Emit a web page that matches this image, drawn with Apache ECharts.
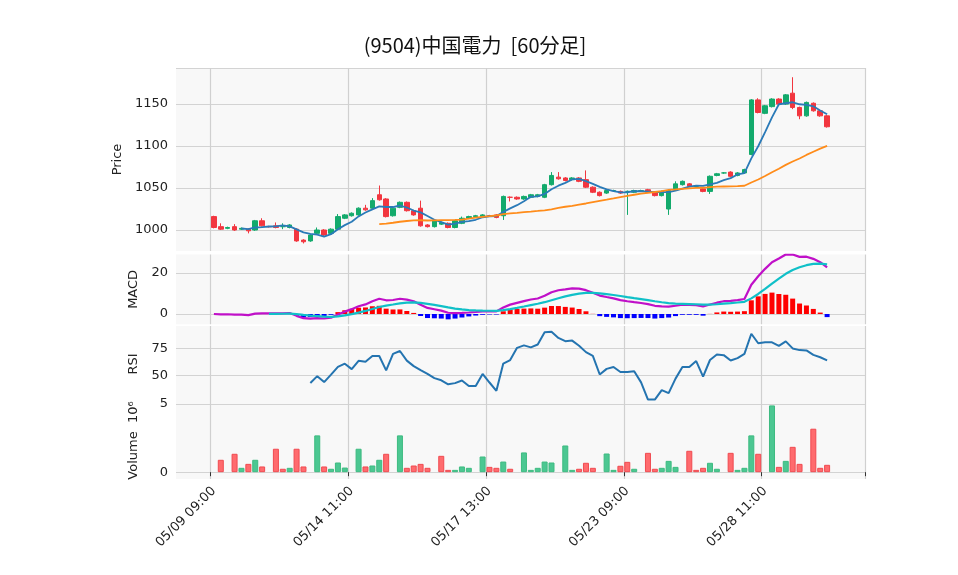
<!DOCTYPE html>
<html><head><meta charset="utf-8">
<script src="https://cdn.jsdelivr.net/npm/echarts@6/dist/echarts.min.js"></script>
<style>html,body{margin:0;padding:0;background:#fff}#c{width:958px;height:575px}</style>
</head><body><div id="c"></div>
<script>
const days=['05/09','05/10','05/13','05/14','05/15','05/16','05/17','05/20','05/21','05/22','05/23','05/24','05/27','05/28','05/29'];
const hours=['09:00','10:00','11:00','12:00','13:00','14:00'];
const opens=[1016,1004,1002,1004,1001,1001,1000,1011,1004,1005,1004,1003,1001,988,987,996,1000,996,1001,1014,1017,1018,1026,1026,1042,1037,1017,1027,1033,1023,1026,1006,1004,1007,1008,1003,1008,1014,1016,1016,1017,1018,1017,1039,1039,1037,1039,1040,1039,1054,1063,1062,1060,1062,1060,1051,1045,1044,1047,1046,1046,1045,1047,1048,1045,1041,1025,1049,1054,1055,1052,1049,1046,1065,1068,1069,1065,1068,1090,1155,1139,1147,1156,1150,1163,1146,1136,1151,1142,1136];
const closes=[1003,1001,1003,1000,1002,999,1011,1005,1004,1003,1004,1006,987,986,994,1000,994,1001,1016,1018,1020,1026,1024,1035,1036,1016,1026,1033,1023,1018,1005,1004,1011,1009,1003,1011,1014,1016,1017,1018,1017,1015,1040,1039,1037,1040,1042,1042,1054,1065,1061,1059,1062,1058,1051,1045,1041,1047,1047,1044,1046,1047,1047,1045,1041,1046,1047,1055,1058,1052,1052,1046,1064,1067,1068,1064,1068,1072,1155,1140,1148,1156,1150,1161,1146,1136,1152,1142,1136,1123];
const lows=[1002,1000,1001,999,1000,996,999,1004,1003,1002,1001,1002,986,984,986,995,993,995,1000,1013,1016,1017,1023,1025,1035,1015,1016,1026,1022,1017,1004,1003,1003,1006,1002,1002,1007,1013,1015,1015,1016,1014,1012,1034,1036,1036,1038,1039,1038,1053,1060,1058,1059,1057,1050,1044,1040,1043,1046,1043,1018,1044,1046,1044,1040,1040,1018,1048,1053,1051,1051,1045,1043,1064,1067,1063,1064,1067,1089,1139,1138,1146,1149,1149,1144,1132,1135,1141,1135,1122];
const highs=[1017,1008,1004,1007,1003,1002,1012,1014,1005,1009,1008,1007,1002,989,995,1003,1001,1002,1019,1019,1021,1027,1030,1038,1053,1038,1027,1034,1034,1024,1035,1007,1012,1010,1009,1012,1016,1017,1018,1019,1018,1019,1041,1040,1040,1041,1043,1043,1055,1069,1069,1063,1063,1063,1071,1052,1046,1048,1048,1047,1047,1048,1048,1049,1046,1047,1048,1058,1059,1056,1053,1050,1065,1068,1069,1070,1069,1073,1156,1157,1149,1157,1157,1162,1182,1147,1153,1152,1143,1137];
const volumes=[null,0.91,null,1.35,0.32,0.61,0.91,0.42,null,1.72,0.25,0.32,1.72,0.42,null,2.7,0.42,0.25,0.71,0.34,null,1.72,0.42,0.49,0.91,1.35,null,2.7,0.32,0.49,0.61,0.32,null,1.2,0.17,0.17,0.42,0.32,null,1.15,0.39,0.32,0.78,0.25,null,1.45,0.17,0.32,0.78,0.71,null,1.96,0.17,0.25,0.69,0.32,null,1.37,0.17,0.47,0.76,0.25,null,1.42,0.25,0.32,0.83,0.39,null,1.57,0.17,0.32,0.69,0.25,null,1.42,0.17,0.32,2.7,1.35,null,4.9,0.39,0.83,1.86,0.61,null,3.19,0.32,0.54];
const volumeUp=[0,0,0,0,1,0,1,0,0,0,0,1,0,0,0,1,0,1,1,1,0,1,0,1,1,0,0,1,0,0,0,0,0,0,0,1,1,1,0,1,0,0,1,0,0,1,1,1,1,1,0,1,1,0,0,0,0,1,1,0,0,1,0,0,0,1,1,1,0,0,0,0,1,1,0,0,1,1,1,0,0,1,0,1,0,0,0,0,0,0];
const PAD=5;
const cats=[];
for(let i=0;i<PAD;i++)cats.push('');
days.forEach(d=>hours.forEach(h=>cats.push(d+' '+h)));
for(let i=0;i<PAD;i++)cats.push(' ');
const N=closes.length;
const pad=a=>{const r=[];for(let i=0;i<PAD;i++)r.push('-');a.forEach(v=>r.push(v==null?'-':v));for(let i=0;i<PAD;i++)r.push('-');return r;};
function ma(n){return closes.map((c,i)=>i<n-1?null:+(closes.slice(i-n+1,i+1).reduce((a,b)=>a+b,0)/n).toFixed(2));}
function ema(arr,n){const k=2/(n+1);const r=[];arr.forEach((v,i)=>r.push(i===0?v:v*k+r[i-1]*(1-k)));return r;}
const e12=ema(closes,12),e26=ema(closes,26);
const macd=e12.map((v,i)=>v-e26[i]);
const sigFull=ema(macd,9);
const sig=sigFull.map((v,i)=>i<8?null:v);
const hist=macd.map((v,i)=>i<8?null:v-sigFull[i]);
const rsi=closes.map((c,i)=>{if(i<14)return null;let g=0,l=0;for(let j=i-13;j<=i;j++){const d=closes[j]-closes[j-1];if(d>0)g+=d;else l-=d;}return l===0?100:100-100/(1+g/l);});
const labelInt=(i)=>i>=PAD&&(i-PAD)%20===0&&i<PAD+N;
const UP='#13aa6c',DN='#f2363f';
const L=176,R=93;
const grids=[{top:68,height:183},{top:254.5,height:69.75},{top:326,height:76},{top:402,height:77}].map(g=>Object.assign({left:L,right:R,show:true,backgroundColor:'#f8f8f8',borderWidth:0},g));
const xAxes=grids.map((g,i)=>({type:'category',gridIndex:i,data:cats,boundaryGap:true,
  axisLine:{show:false},axisTick:{show:i===3,interval:labelInt,length:4,lineStyle:{color:'#333'}},
  axisLabel:{show:i===3,interval:labelInt,rotate:45,fontSize:13,color:'#222',fontFamily:'DejaVu Sans',margin:10},
  splitLine:{show:true,interval:labelInt,lineStyle:{color:'#d0d0d0',width:1.2}}}));
const T='rgba(0,0,0,0)',G='#d3d3d3';
const yBase={axisLine:{show:false},axisTick:{show:false},nameLocation:'middle',nameTextStyle:{fontSize:13,color:'#222',fontFamily:'DejaVu Sans'},axisLabel:{fontSize:13,color:'#222',fontFamily:'DejaVu Sans'}};
const yAxes=[
 Object.assign({},yBase,{gridIndex:0,min:975,max:1193,interval:25,name:'Price',nameGap:42,
   axisLabel:Object.assign({},yBase.axisLabel,{formatter:v=>v%50===0&&v<1200?String(v):''}),
   splitLine:{lineStyle:{color:[T,G],width:1.2}}}),
 Object.assign({},yBase,{gridIndex:1,min:-5,max:29,interval:5,name:'MACD',nameGap:36,
   axisLabel:Object.assign({},yBase.axisLabel,{formatter:v=>v===0||v===20?String(v):''}),
   splitLine:{lineStyle:{color:[T,G,T,T,T,G,T],width:1.2}}}),
 Object.assign({},yBase,{gridIndex:2,min:25,max:96.3,interval:25,name:'RSI',nameGap:36,
   axisLabel:Object.assign({},yBase.axisLabel,{formatter:v=>v===50||v===75?String(v):''}),
   splitLine:{lineStyle:{color:[T,G,G],width:1.2}}}),
 Object.assign({},yBase,{gridIndex:3,min:-0.5,max:5.15,interval:0.5,name:'Volume  10⁶',nameGap:36,
   axisLabel:Object.assign({},yBase.axisLabel,{formatter:v=>Math.abs(v)<1e-9?'0':(Math.abs(v-5)<1e-9?'5':'')}),
   splitLine:{lineStyle:{color:[T,G,T,T,T,T,T,T,T,T,T,G],width:1.2}}})
];
const candle=opens.map((o,i)=>[o,closes[i],lows[i],highs[i]]);
const volData=volumes.map((v,i)=>v==null?'-':{value:v,itemStyle:{color:volumeUp[i]?'#4cc792':'#ff6b6e',borderColor:volumeUp[i]?'#3dbb80':'#f04a50',borderWidth:1}});
const chart=echarts.init(document.getElementById('c'));
chart.setOption({
 animation:false,
 title:{text:'(9504)中国電力  [60分足]',left:470,top:30,textAlign:'center',textStyle:{fontSize:20,fontWeight:'normal',color:'#111',fontFamily:'Noto Sans CJK JP'}},
 grid:grids,xAxis:xAxes,yAxis:yAxes,
 series:[
  {type:'candlestick',xAxisIndex:0,yAxisIndex:0,data:pad(candle),barWidth:5,itemStyle:{color:UP,color0:DN,borderColor:UP,borderColor0:DN,borderWidth:1}},
  {type:'line',xAxisIndex:0,yAxisIndex:0,data:pad(ma(5)),showSymbol:false,lineStyle:{color:'#2a7ab8',width:1.8}},
  {type:'line',xAxisIndex:0,yAxisIndex:0,data:pad(ma(25)),showSymbol:false,lineStyle:{color:'#ff8c1a',width:1.8}},
  {type:'bar',xAxisIndex:1,yAxisIndex:1,data:pad(hist).map(v=>v==='-'?'-':{value:v,itemStyle:{color:v>=0?'#ff0000':'#0000ff'}}),barWidth:5},
  {type:'line',xAxisIndex:1,yAxisIndex:1,data:pad(macd),showSymbol:false,lineStyle:{color:'#c010c8',width:2.2}},
  {type:'line',xAxisIndex:1,yAxisIndex:1,data:pad(sig),showSymbol:false,lineStyle:{color:'#10c0c8',width:2.2}},
  {type:'line',xAxisIndex:2,yAxisIndex:2,data:pad(rsi),showSymbol:false,lineStyle:{color:'#2474b0',width:2}},
  {type:'bar',xAxisIndex:3,yAxisIndex:3,data:pad(volData),barWidth:6}
 ]
});
</script></body></html>
